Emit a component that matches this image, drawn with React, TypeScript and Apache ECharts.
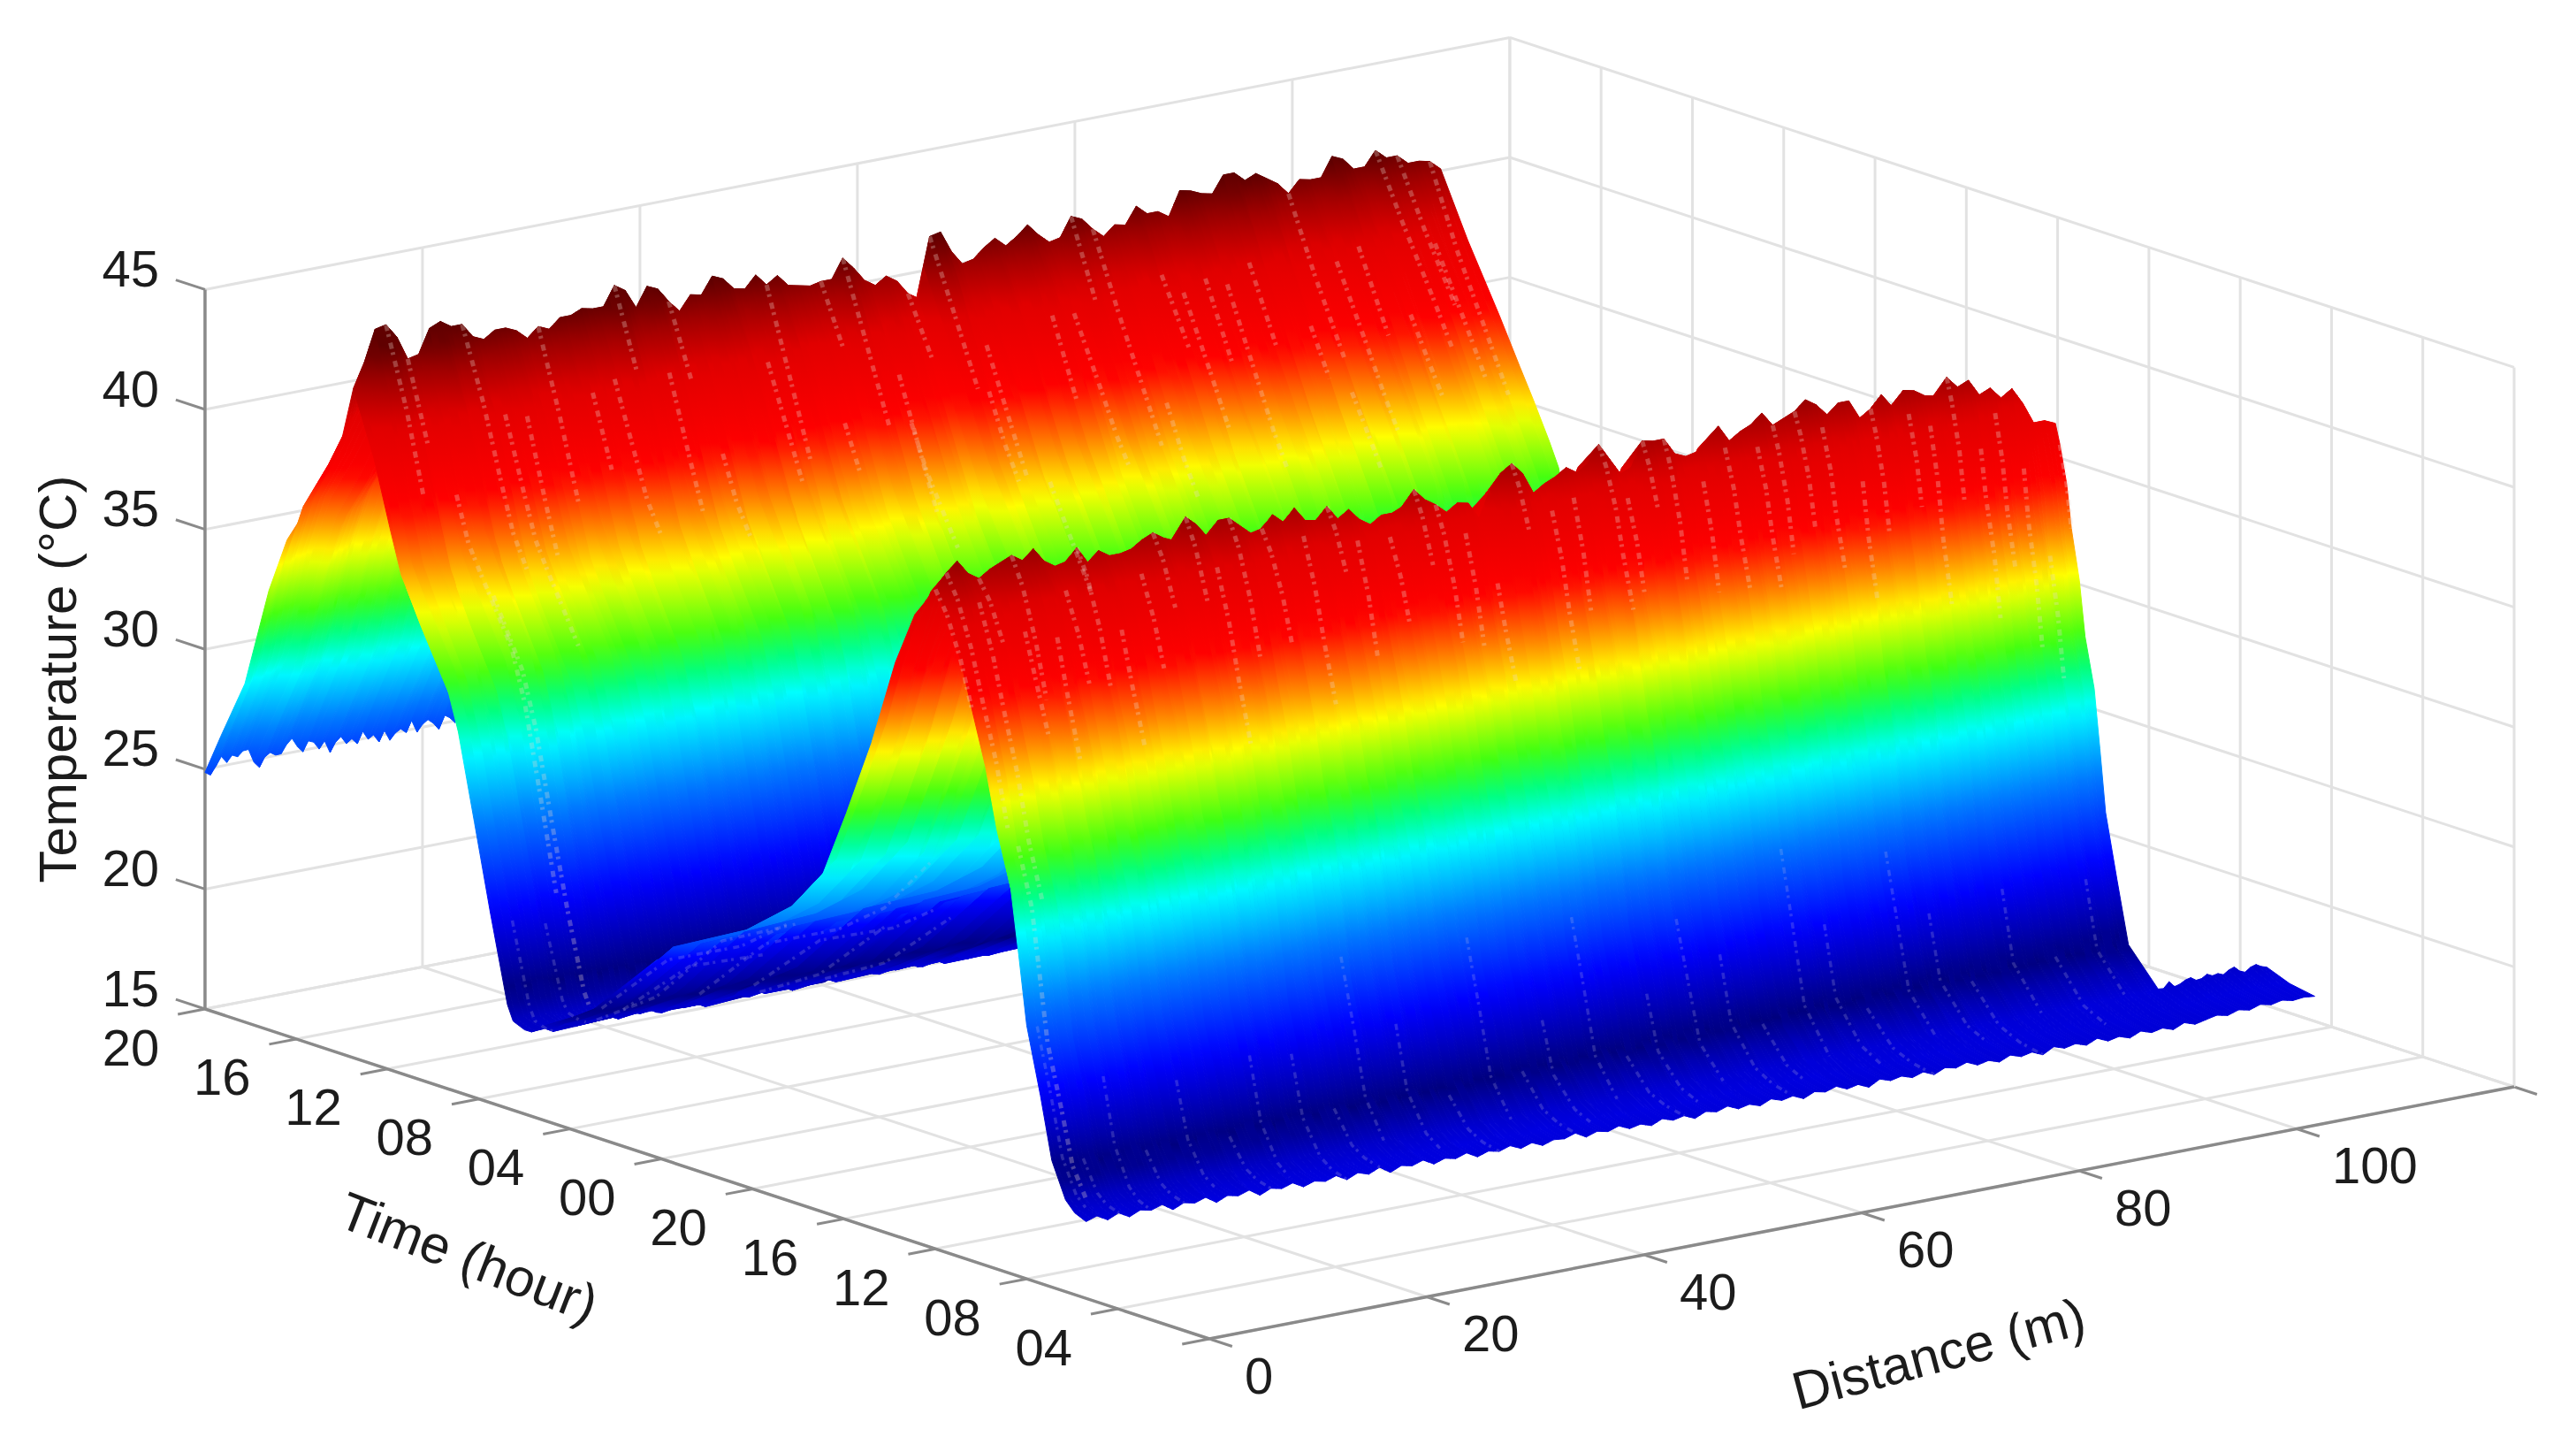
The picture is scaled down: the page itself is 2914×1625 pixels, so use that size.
import React, { useEffect, useRef } from "react";
import * as echarts from "echarts";

// ---- axis content
const distanceTicks = [0, 20, 40, 60, 80, 100, 120];
const distanceLabels = ["0", "20", "40", "60", "80", "100", ""];
const timeTicks = [0, 4, 8, 12, 16, 20, 24, 28, 32, 36, 40, 44];
const timeLabels = ["", "04", "08", "12", "16", "20", "00", "04", "08", "12", "16", "20"];
const temperatureTicks = [15, 20, 25, 30, 35, 40, 45];

// ---- profile across time: hours along the axis, temperature of a typical column at that hour,
// and how many hours that part of the profile has moved by the far end of the cable
const timeRows = [44, 43.3, 42.25, 41.2, 40.4, 39.3, 38.1, 37.5, 36.6, 35.9, 35.4, 34.8, 34, 33.5, 32.9, 32.2, 31.5, 30.75, 30.5, 30, 29.7, 27.1, 24.2, 21, 19, 17, 15.9, 14.8, 13.75, 12.9, 12, 11.5, 10.9, 10.4, 9.8, 9.3, 8.7, 8.35, 8, 7.4, 6.9, 6.3, 5.9, 5.4];
const rowTemps = [25, 26.8, 29.4, 33.8, 36.3, 38.4, 41.1, 44, 41, 38, 36, 34.7, 33.1, 32.1, 29.9, 26.3, 22.7, 19.1, 18.5, 18.3, 18.3, 19.9, 22.9, 24.5, 26, 28.5, 31.6, 35, 39, 41.5, 43, 42, 40.1, 38, 35.6, 33, 30.7, 28, 25.2, 22.5, 20, 18.6, 18.2, 18];
const rowDrift = [0, 0, 0, 0, 0, 0, 0, 0, -0.3, -1, -1.4, -1.4, -1.3, -1.2, -1, -0.8, -0.5, -0.3, 0, 0, 0, 0, 0, 0, 0, 0, 0, 0, 0, 0, 0, 0.3, 0.6, 0.9, 1.15, 1.4, 1.6, 1.7, 1.8, 1.9, 1.9, 1.2, 0.6, 0];

// ---- crest temperature of each ridge, one value per metre of distance
const rearCrest = [42.9, 43.9, 45.2, 45.3, 44.7, 43.7, 43.8, 44.8, 45, 44.7, 44.7, 44.1, 43.9, 44.2, 44.2, 44, 43.6, 44, 43.8, 44.2, 44.2, 44.4, 44.3, 44.3, 45.1, 44.8, 44, 44.8, 44.6, 44, 43.5, 44.1, 44, 44.7, 44.5, 44, 43.9, 44.4, 43.9, 44.2, 43.7, 43.6, 43.5, 43.6, 43.6, 44.4, 43.9, 43.3, 43, 43.3, 43, 42.4, 42.1, 44.6, 44.7, 43.8, 43.2, 43.3, 43.7, 44, 43.6, 43.9, 44.3, 43.8, 43.4, 43.5, 44.3, 44.1, 43.6, 43.2, 43.6, 43.5, 44.2, 43.8, 43.8, 43.5, 44.5, 44.4, 44.2, 44.1, 44.8, 44.8, 44.4, 44.6, 44.3, 44, 43.5, 44, 43.9, 43.9, 44.7, 44.5, 44, 44, 44.6, 44.2, 44.2, 43.8, 43.8, 43.7, 43.3];
const frontCrest = [42.5, 43.1, 43.5, 42.9, 42.6, 42.9, 43.1, 43.3, 43, 43.4, 42.8, 42.5, 42.6, 43.1, 42.4, 42.8, 42.5, 42.5, 42.6, 42.9, 43.1, 42.8, 42.6, 43.5, 43.1, 42.5, 43.1, 43.1, 42.7, 42.3, 42.4, 42.9, 42.5, 43, 42.4, 42.3, 42.8, 42.2, 42.5, 42, 41.7, 42, 42, 42.2, 42.8, 42.3, 42, 41.6, 41.9, 41.8, 41.1, 42.2, 42.8, 43.1, 42.6, 41.7, 42, 42.2, 42.5, 42.2, 42.5, 43.2, 42.5, 41.8, 42, 43, 42.9, 42.9, 42.2, 42, 42.1, 42.5, 43, 42.3, 42.6, 42.8, 43.2, 42.6, 42.8, 43, 43.4, 43.1, 42.6, 43, 43, 42.2, 42.5, 43, 42.4, 43, 42.9, 42.6, 42.5, 43.2, 42.7, 42.9, 42.2, 42.4, 41.9, 42.2, 41.5, 40.6, 40.6, 40.4];
// small departure of the valley floor from 18 degrees, one value per metre
const troughOffsets = [0.2, 0.35, 0.1, 0.3, 0.05, 0.25, 0.15, 0.3, 0, 0.2, 0.1, 0.25, -0.05, 0.15, 0.05, 0.2, -0.1, 0.1, 0, 0.15, -0.1, 0.05, -0.05, 0.1, -0.15, 0.05, -0.1, 0.1, -0.2, 0, -0.1, 0.05, -0.2, -0.05, -0.15, 0, -0.25, -0.1, -0.2, -0.05, -0.25, -0.1, -0.3, -0.15, -0.2, -0.05, -0.3, -0.15, -0.25, -0.1, -0.3, -0.2, -0.35, -0.15, -0.3, -0.2, -0.4, -0.2, -0.3, -0.15, -0.35, -0.25, -0.4, -0.2, -0.35, -0.25, -0.45, -0.25, -0.35, -0.2, -0.4, -0.3, -0.5, -0.25, -0.4, -0.3, -0.45, -0.3, -0.5, -0.3, -0.4, -0.25, -0.45, -0.35, -0.5, -0.3, -0.45, -0.35, -0.55, -0.3, -0.45, -0.35, -0.5, -0.3, -0.5, -0.4, -0.55, -0.35, -0.5, -0.4, -0.55, -0.35, -0.5, -0.4, -0.3, -0.4, -0.25, -0.35, -0.2, -0.3, -0.2, -0.3, -0.25, -0.3];
// column-to-column unevenness on the slopes, one value per half metre (repeats)
const slopeRipple = [0.5, -0.4, 0.2, 0.8, -0.7, 0.1, -0.3, 0.6, 0.9, -0.5, -0.9, 0.3, 0.7, -0.2, -0.6, 0.4, 1, -0.1, -0.8, 0.5, 0.2, -0.6, 0.6, -1, 0.3, 0.8, -0.4, 0.1, -0.7, 0.9, -0.2, 0.4, -0.5, 0.7, -0.9, 0, 0.5, -0.3, 1, -0.7, 0.2, 0.6, -0.1, -1, 0.8, 0.3, -0.5, 0.4, -0.2, 0.9, -0.8, 0.1, 0.6];

// ---- pale mesh flecks: [distance, from hour, to hour]
const meshFlecks = [
  [3, 37.5, 35.5], [9, 37.4, 36], [10, 37.5, 34.5], [12, 37, 33.5], [15, 37.4, 36.1], [20, 37.2, 35.8], [24, 37.5, 36], [27, 37.4, 35.2], [33, 37.4, 36], [36, 36.9, 35.3], [45, 37.5, 35.8], [53, 37.5, 35.6], [54, 36.5, 34.6], [59, 37.3, 36], [62, 37.2, 35.8], [66, 37.5, 36.2], [72, 37.3, 35.9], [76, 37.2, 35.6], [80, 37.4, 35.5], [83, 36.5, 35.2], [90, 37.3, 35.6], [94, 37.5, 35.4], [97, 36.8, 35.2], [92, 36, 34.6], [41, 36.2, 34.9], [30, 35.9, 34.5], [70, 36, 34.8], [6, 35.9, 31.5], [7, 34.8, 30.5],
  [5, 37.5, 36], [14, 36.6, 35], [17, 37.5, 35.9], [22, 36.6, 34.8], [29, 37.5, 36.6], [38, 37.5, 35.9], [43, 37.5, 36], [48, 36.6, 35.4], [51, 37.5, 36], [56, 36.6, 35], [64, 36.6, 34.8], [68, 37.5, 35.4], [74, 36.6, 35], [78, 36.6, 34.8], [86, 37.5, 35.9], [88, 36.6, 34.8], [96, 37.5, 35.9], [99, 37.5, 35.4], [47, 35.9, 34], [58, 35.4, 33.5], [85, 35.4, 34],
  [0, 12.5, 10], [1, 12, 9.2], [3, 11.5, 8.4], [4, 12, 10.7], [7, 12, 10], [9, 11, 9.5], [13, 12, 10.2], [18, 11.5, 10.2], [23, 12, 10.8], [27, 12, 10.2], [33, 11.8, 9.7], [36, 12, 10.8], [41, 11.5, 10.4], [44, 12, 10.6], [48, 11.7, 10.1], [53, 12, 10.5], [58, 11.8, 10.2], [61, 12, 9.8], [65, 12, 10.5], [70, 11.5, 10], [75, 11.8, 9.5], [79, 12, 10], [81, 11.5, 9.4], [84, 11, 9.6], [89, 11.8, 10.2], [93, 12, 9.9], [97, 11.9, 9.7], [99, 11, 8.8], [101, 10.8, 9], [2, 9.3, 6.3], [1, 8, 5.6],
  [6, 10.9, 9.8], [11, 11.5, 10], [15, 10.9, 9.8], [20, 12, 10.9], [25, 11.5, 9.8], [30, 12, 10.4], [38, 11.5, 10], [46, 12, 10.4], [50, 10.9, 9.8], [56, 11.5, 9.8], [63, 11.5, 10], [67, 12, 10.4], [72, 11.5, 9.8], [77, 12, 10.4], [86, 12, 10.4], [91, 11.5, 9.8], [95, 10.9, 9.3], [103, 11.5, 10],
  [1, 27.1, 19], [3, 27.1, 21], [6, 29.7, 21], [10, 27.1, 17], [15, 27.1, 19], [21, 29.7, 24.2], [27, 29.7, 24.2], [2, 31.5, 29.7], [5, 31.5, 29.7],
  [3, 6.9, 5.4], [6, 7.4, 5.4], [9, 6.9, 5.4], [13, 7.4, 5.9], [17, 6.9, 5.4], [20, 7.4, 5.9], [24, 7.4, 5.4], [27, 6.9, 5.4], [30, 8, 6.3], [34, 7.4, 5.9], [38, 6.9, 5.4], [42, 8, 6.3], [45, 6.9, 5.4], [48, 7.4, 5.9], [52, 8, 6.3], [55, 6.9, 5.4], [58, 7.4, 5.9], [62, 8, 6.3], [65, 7.4, 5.4], [68, 6.9, 5.9], [72, 8, 6.3], [75, 7.4, 5.9], [78, 6.9, 5.4], [82, 8, 6.3], [85, 7.4, 5.9], [88, 6.9, 5.4], [92, 7.4, 6.3], [96, 6.9, 5.9], [100, 7.4, 6.3],
];

// ---- colour scale: temperature knots and their colours
const paletteTemps = [17, 18, 18.8, 19.8, 21, 23, 26.3, 29.2, 30.6, 32, 34.5, 36.3, 38.3, 41.5, 43.2, 44.5];
const paletteColors = [[0, 0, 200], [0, 0, 225], [0, 0, 190], [0, 0, 125], [0, 0, 175], [0, 0, 255], [0, 120, 255], [0, 255, 255], [0, 255, 128], [64, 255, 16], [255, 255, 0], [255, 128, 0], [255, 0, 0], [224, 0, 0], [160, 0, 0], [96, 0, 0]];

// ---- view of the 3-D box (pixels per unit)
const origin = [1368, 1514];
const perMetre = [12.3, -2.375];
const perHour = [-25.82, -8.477];
const perDegree = -27.12;
const baseTemp = 15;
const driftLength = 103;

const project = (d: number, t: number, T: number): number[] => [
  origin[0] + d * perMetre[0] + t * perHour[0],
  origin[1] + d * perMetre[1] + t * perHour[1] + (T - baseTemp) * perDegree,
];

const colourOf = (T: number): string => {
  const n = paletteTemps.length;
  if (T <= paletteTemps[0]) return `rgb(${paletteColors[0].join(",")})`;
  if (T >= paletteTemps[n - 1]) return `rgb(${paletteColors[n - 1].join(",")})`;
  let i = 0;
  while (T > paletteTemps[i + 1]) i++;
  const f = (T - paletteTemps[i]) / (paletteTemps[i + 1] - paletteTemps[i]);
  const c = paletteColors[i].map((v, k) => Math.round(v + (paletteColors[i + 1][k] - v) * f));
  return `rgb(${c.join(",")})`;
};

const between = (list: number[], x: number, fallback: number): number => {
  const i = Math.floor(x);
  const a = list[i] ?? fallback;
  const b = list[i + 1] ?? a;
  return a + (b - a) * (x - i);
};

const tempAt = (row: number, col: number): number => {
  const t = timeRows[row];
  const rowT = rowTemps[row];
  const crest = t > 29.9 ? rearCrest : frontCrest;
  const peak = t > 29.9 ? 44 : 43;
  const f = (rowT - 18) / (peak - 18);
  const c = between(crest, col, peak);
  const rippleSize = t > 37.5 ? 0.4 : 1.25;
  const ripple = slopeRipple[Math.round(col * 2) % slopeRipple.length] * 4 * f * (1 - f) * rippleSize;
  const off = between(troughOffsets, col, -0.3) * Math.max(0, 1 - f * 4);
  return 18 + (rowT - 18) * (c - 18) / (peak - 18) + ripple + off;
};

const hourAt = (row: number, col: number) => timeRows[row] + rowDrift[row] * Math.min(col, driftLength) / driftLength;
const vertex = (row: number, col: number) => project(col, hourAt(row, col), tempAt(row, col));

// the surface is split where the profile turns, and painted from the back to the front
const rowOf = (t: number) => timeRows.indexOf(t);
const faces = [
  { from: rowOf(44), to: rowOf(37.5), colStart: 0, colEnd: 100 },
  { from: rowOf(37.5), to: rowOf(29.7), colStart: 0, colEnd: 100 },
  { from: rowOf(29.7), to: rowOf(12), colStart: 0, colEnd: 103 },
  { from: rowOf(12), to: rowOf(5.4), colStart: 0, colEnd: 103 },
  { from: rowOf(6.3), to: rowOf(5.4), colStart: 103, colEnd: 113 },
];
const stripData: number[][] = [];
faces.forEach((f, fi) => {
  for (let c = f.colStart; c < f.colEnd; c += 0.5) stripData.push([c, fi]);
});

// ---- frame lines: d1,t1,T1,d2,t2,T2,style
const tMax = 44, dMax = 120, zMin = 15, zMax = 45;
const frameLines: number[][] = [];
distanceTicks.forEach((d) => {
  frameLines.push([d, 0, zMin, d, tMax, zMin, 0]);
  frameLines.push([d, tMax, zMin, d, tMax, zMax, 0]);
  frameLines.push([d, 0, zMin, d, -1, zMin, 2]);
});
timeTicks.forEach((t) => {
  frameLines.push([0, t, zMin, dMax, t, zMin, 0]);
  frameLines.push([dMax, t, zMin, dMax, t, zMax, 0]);
  frameLines.push([0, t, zMin, -2.5, t, zMin, 2]);
});
temperatureTicks.forEach((T) => {
  frameLines.push([0, tMax, T, dMax, tMax, T, 0]);
  frameLines.push([dMax, tMax, T, dMax, 0, T, 0]);
  frameLines.push([0, tMax, T, 0, tMax + 1.28, T, 2]);
});
frameLines.push([0, tMax, zMin, 0, tMax, zMax, 1]);
frameLines.push([0, 0, zMin, 0, tMax, zMin, 1]);
frameLines.push([0, 0, zMin, dMax, 0, zMin, 1]);

const frameStyles = [
  { stroke: "#e2e2e2", lineWidth: 3 },
  { stroke: "#8a8a8a", lineWidth: 3.5 },
  { stroke: "#8a8a8a", lineWidth: 3 },
];

const textFont = '"Liberation Sans", Arial, sans-serif';
const tickText = (text: string, x: number, y: number, align: string) => ({
  type: "text", x, y, silent: true,
  style: { text, fill: "#1c1c1c", font: `58px ${textFont}`, textAlign: align, textVerticalAlign: "middle" },
});
const titleText = (text: string, x: number, y: number, rotation: number) => ({
  type: "text", x, y, rotation, silent: true,
  style: { text, fill: "#1c1c1c", font: `60px ${textFont}`, textAlign: "center", textVerticalAlign: "middle" },
});

export default function App() {
  const ref = useRef<HTMLDivElement>(null);
  useEffect(() => {
    document.body.style.margin = "0";
    const chart = echarts.init(ref.current!, undefined, { renderer: "svg" });

    const labels: any[] = [];
    distanceTicks.forEach((d, i) => {
      if (!distanceLabels[i]) return;
      const p = project(d, 0, zMin);
      labels.push(tickText(distanceLabels[i], p[0] + 40, p[1] + 41, "left"));
    });
    timeTicks.forEach((t, i) => {
      if (!timeLabels[i]) return;
      const p = project(0, t, zMin);
      labels.push(tickText(timeLabels[i], p[0] - 84, p[1] + 43, "center"));
    });
    temperatureTicks.forEach((T) => {
      const p = project(0, tMax, T);
      labels.push(tickText(String(T), p[0] - 52, p[1] - 24, "right"));
    });
    labels.push(titleText("Temperature (°C)", 65, 768, Math.PI / 2));
    labels.push(titleText("Time (hour)", 530, 1422, -0.37));
    labels.push(titleText("Distance (m)", 2193, 1531, 0.26));

    chart.setOption({
      animation: false,
      backgroundColor: "#ffffff",
      grid: { left: 0, right: 0, top: 0, bottom: 0 },
      xAxis: { type: "value", min: 0, max: 2914, show: false },
      yAxis: { type: "value", min: 0, max: 1625, inverse: true, show: false },
      graphic: { elements: labels },
      series: [
        {
          type: "custom", z: 1, silent: true, clip: false, coordinateSystem: "cartesian2d",
          data: frameLines,
          renderItem: (_p: any, api: any) => {
            const a = api.coord(project(api.value(0), api.value(1), api.value(2)));
            const b = api.coord(project(api.value(3), api.value(4), api.value(5)));
            return {
              type: "line",
              shape: { x1: a[0], y1: a[1], x2: b[0], y2: b[1] },
              style: { ...frameStyles[api.value(6)], fill: null },
            };
          },
        },
        {
          type: "custom", z: 2, silent: true, clip: false, coordinateSystem: "cartesian2d",
          data: stripData,
          renderItem: (_p: any, api: any) => {
            const col = api.value(0);
            const next = col + 0.5;
            const face = faces[api.value(1)];
            const left: number[][] = [];
            const right: number[][] = [];
            const stopsRaw: { y: number; T: number }[] = [];
            for (let r = face.from; r <= face.to; r++) {
              left.push(api.coord(vertex(r, col)));
              right.push(api.coord(vertex(r, next)));
              const yc = (left[left.length - 1][1] + right[right.length - 1][1]) / 2;
              const Tc = (tempAt(r, col) + tempAt(r, next)) / 2;
              if (stopsRaw.length) {
                const prev = stopsRaw[stopsRaw.length - 1];
                const steps = Math.ceil(Math.abs(Tc - prev.T) / 0.8);
                for (let s = 1; s < steps; s++) {
                  stopsRaw.push({ y: prev.y + (yc - prev.y) * s / steps, T: prev.T + (Tc - prev.T) * s / steps });
                }
              }
              stopsRaw.push({ y: yc, T: Tc });
            }
            const ys = stopsRaw.map((s) => s.y);
            const yMin = Math.min(...ys), yMax = Math.max(...ys);
            const span = Math.max(yMax - yMin, 1);
            const sorted = stopsRaw.slice().sort((a, b) => a.y - b.y);
            const grad = new echarts.graphic.LinearGradient(
              0, yMin, 0, yMin + span,
              sorted.map((s) => ({ offset: (s.y - yMin) / span, color: colourOf(s.T) })),
              true,
            );
            return {
              type: "polygon",
              shape: { points: [...left, ...right.reverse()] },
              style: { fill: grad, stroke: grad, lineWidth: 1 },
            };
          },
        },
        {
          type: "custom", z: 3, silent: true, clip: false, coordinateSystem: "cartesian2d",
          data: meshFlecks,
          renderItem: (_p: any, api: any) => {
            const d = api.value(0), tA = api.value(1), tB = api.value(2);
            const pts: number[][] = [];
            timeRows.forEach((t, r) => {
              if (t <= tA && t >= tB) pts.push(api.coord(vertex(r, d)));
            });
            const cool = tA < 9 || (tA > 17 && tA < 32);
            return {
              type: "polyline",
              shape: { points: pts },
              style: {
                fill: null,
                stroke: cool ? "rgba(190,185,225,0.22)" : "rgba(235,215,205,0.3)",
                lineWidth: cool ? 3.5 : 5,
                lineDash: [7, 4, 3, 7],
              },
            };
          },
        },
      ],
    });
    return () => chart.dispose();
  }, []);
  return <div ref={ref} style={{ width: 2914, height: 1625, display: "block" }} />;
}
